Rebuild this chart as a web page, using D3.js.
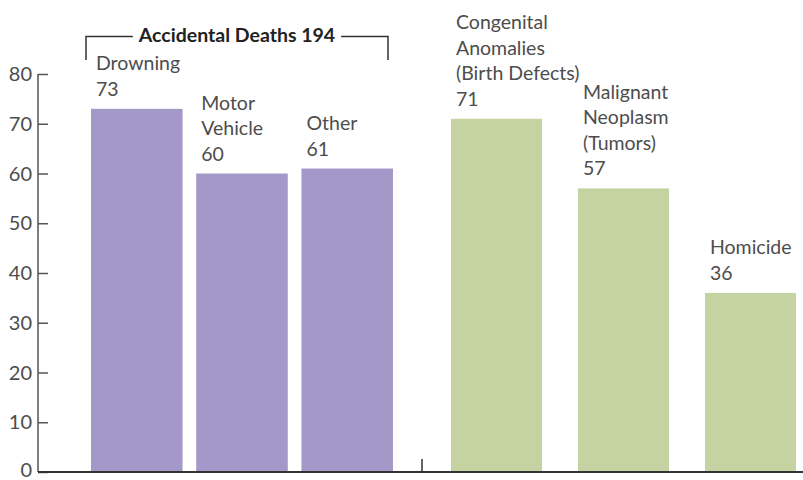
<!DOCTYPE html>
<html><head><meta charset="utf-8">
<script src="https://cdn.jsdelivr.net/npm/d3@7"></script>
<style>body{margin:0;background:#fff}svg{display:block}text{font-family:Lato,"Open Sans",sans-serif}</style>
</head><body><svg id="c" width="803" height="480"></svg>
<script>
const accidentCats = [["Drowning"], ["Motor", "Vehicle"], ["Other"]];
const accidentVals = [73, 60, 61];
const otherCats = [["Congenital", "Anomalies", "(Birth Defects)"], ["Malignant", "Neoplasm", "(Tumors)"], ["Homicide"]];
const otherVals = [71, 57, 36];
const groupTitle = "Accidental Deaths 194";
const yTicks = [0, 10, 20, 30, 40, 50, 60, 70, 80];

const svg = d3.select("#c");
const axisX = 38, baseY = 472;
const y = d3.scaleLinear().domain([0, 80]).range([baseY, 74]);
const x1 = d3.scaleBand().domain(d3.range(3)).range([91, 393]).paddingInner(0.13).paddingOuter(0);
const x2 = d3.scaleBand().domain(d3.range(3)).range([451, 796]).paddingInner(0.283).paddingOuter(0);

function drawGroup(xs, cats, vals, color) {
  const g = svg.append("g");
  g.selectAll("rect").data(vals).join("rect")
    .attr("x", (d, i) => xs(i)).attr("width", xs.bandwidth())
    .attr("y", d => y(d)).attr("height", d => baseY - y(d))
    .attr("fill", color);
  vals.forEach((v, i) => {
    const lines = cats[i].concat([String(v)]);
    const t = g.append("text").attr("x", xs(i) + 5).attr("fill", "#4d4d4d")
      .attr("font-size", 19.5);
    const lastBase = y(v) - 13;
    lines.forEach((ln, k) => {
      t.append("tspan").attr("x", xs(i) + 5)
        .attr("y", lastBase - (lines.length - 1 - k) * 25.5).text(ln);
    });
  });
}
drawGroup(x1, accidentCats, accidentVals, "#a498c9");
drawGroup(x2, otherCats, otherVals, "#c4d3a1");

// y axis
const ya = svg.append("g").attr("transform", `translate(${axisX},0)`)
  .call(d3.axisRight(y).tickValues(yTicks).tickSize(10).tickFormat(""));
ya.select(".domain").attr("stroke", "#555").attr("stroke-width", 1.5).attr("d", `M0,${baseY}V${y(80)}`);
ya.selectAll(".tick line").attr("stroke", "#555").attr("stroke-width", 1.5);
svg.append("g").selectAll("text").data(yTicks).join("text")
  .attr("x", axisX - 6).attr("y", d => Math.min(y(d) + 7, 477)).attr("text-anchor", "end")
  .attr("font-size", 20).attr("fill", "#4d4d4d").text(d => d);

// x baseline
svg.append("line").attr("x1", axisX).attr("x2", 803).attr("y1", baseY).attr("y2", baseY)
  .attr("stroke", "#333").attr("stroke-width", 2);
// divider tick
const divX = (x1.range()[1] + x2.range()[0]) / 2;
svg.append("line").attr("x1", divX).attr("x2", divX).attr("y1", baseY - 13).attr("y2", baseY)
  .attr("stroke", "#333").attr("stroke-width", 1.5);

// bracket
const bL = x1.range()[0] - 5, bR = x1.range()[1] - 5, bY = 36.5, bBot = 60;
const tcx = (bL + bR) / 2;
const title = svg.append("text").attr("x", tcx).attr("y", 42).attr("text-anchor", "middle")
  .attr("font-size", 19.5).attr("font-weight", "bold").attr("fill", "#222").text(groupTitle);
const tw = title.node().getComputedTextLength();
const gap = 6;
svg.append("path").attr("fill", "none").attr("stroke", "#333").attr("stroke-width", 1.5)
  .attr("d", `M${bL},${bBot}V${bY}H${tcx - tw / 2 - gap}M${tcx + tw / 2 + gap},${bY}H${bR}V${bBot}`);
</script></body></html>
